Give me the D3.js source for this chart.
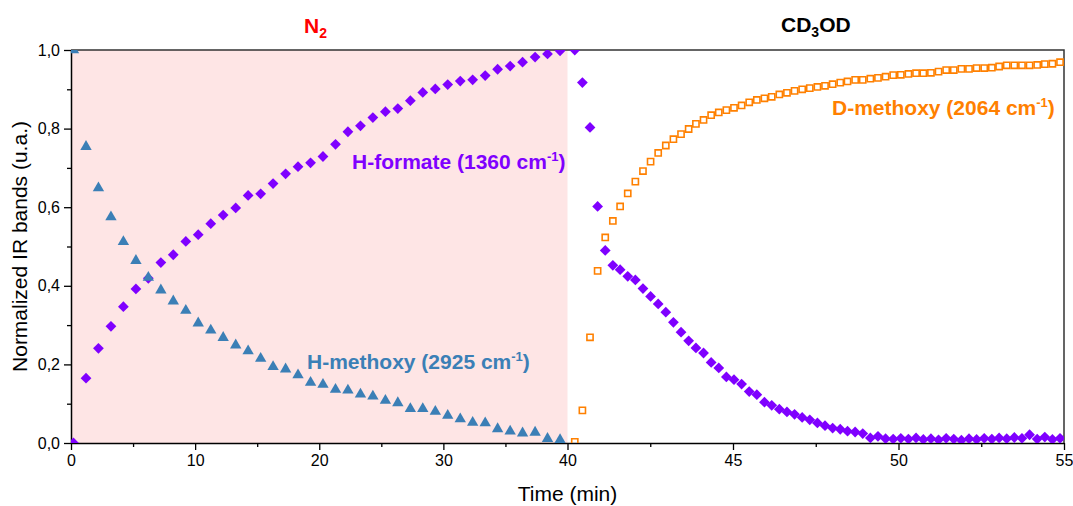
<!DOCTYPE html>
<html>
<head>
<meta charset="utf-8">
<script src="https://cdn.jsdelivr.net/npm/d3@7"></script>
<style>
  body { margin: 0; background: #fff; }
  svg { display: block; font-family: "Liberation Sans", Arial, sans-serif; }
</style>
</head>
<body>
<svg id="chart"></svg>
<script>
// N2 period (about one spectrum per minute)
const timeN2 = [0.20, 1.21, 2.21, 3.22, 4.22, 5.23, 6.23, 7.24, 8.24, 9.25,
  10.25, 11.26, 12.26, 13.27, 14.27, 15.28, 16.28, 17.29, 18.29, 19.30,
  20.30, 21.31, 22.31, 23.32, 24.32, 25.33, 26.33, 27.34, 28.34, 29.35,
  30.35, 31.36, 32.36, 33.37, 34.37, 35.38, 36.38, 37.39, 38.39, 39.40];
const formateN2 = [0.000, 0.165, 0.241, 0.297, 0.347, 0.392, 0.419, 0.459, 0.479, 0.513,
  0.530, 0.558, 0.580, 0.598, 0.630, 0.634, 0.660, 0.685, 0.703, 0.713,
  0.729, 0.760, 0.792, 0.807, 0.828, 0.843, 0.851, 0.871, 0.892, 0.901,
  0.912, 0.921, 0.924, 0.935, 0.951, 0.959, 0.969, 0.982, 0.990, 0.998];
const methoxyH = [1.000, 0.754, 0.649, 0.575, 0.512, 0.464, 0.421, 0.389, 0.361, 0.337,
  0.305, 0.287, 0.268, 0.249, 0.234, 0.215, 0.194, 0.188, 0.173, 0.154,
  0.149, 0.136, 0.134, 0.124, 0.119, 0.108, 0.102, 0.087, 0.087, 0.080,
  0.070, 0.061, 0.052, 0.051, 0.036, 0.030, 0.025, 0.027, 0.011, 0.008];

// CD3OD period (faster sampling)
const timeCD3OD = [40.22, 40.45, 40.68, 40.91, 41.14, 41.37, 41.59, 41.82, 42.05, 42.28,
  42.51, 42.74, 42.97, 43.20, 43.43, 43.66, 43.88, 44.11, 44.34, 44.57,
  44.80, 45.03, 45.26, 45.49, 45.72, 45.95, 46.17, 46.40, 46.63, 46.86,
  47.09, 47.32, 47.55, 47.78, 48.01, 48.24, 48.46, 48.69, 48.92, 49.15,
  49.38, 49.61, 49.84, 50.07, 50.30, 50.53, 50.75, 50.98, 51.21, 51.44,
  51.67, 51.90, 52.13, 52.36, 52.59, 52.82, 53.04, 53.27, 53.50, 53.73,
  53.96, 54.19, 54.42, 54.65, 54.88];
const formateCD3OD = [1.000, 0.917, 0.803, 0.602, 0.490, 0.452, 0.441, 0.424, 0.415, 0.393,
  0.373, 0.354, 0.333, 0.307, 0.282, 0.260, 0.242, 0.229, 0.205, 0.191,
  0.168, 0.161, 0.150, 0.131, 0.123, 0.104, 0.096, 0.086, 0.079, 0.073,
  0.065, 0.059, 0.051, 0.044, 0.038, 0.035, 0.030, 0.028, 0.024, 0.013,
  0.017, 0.011, 0.010, 0.012, 0.010, 0.013, 0.009, 0.011, 0.008, 0.012,
  0.010, 0.007, 0.011, 0.009, 0.012, 0.010, 0.013, 0.011, 0.014, 0.012,
  0.021, 0.010, 0.015, 0.009, 0.012];
const methoxyD = [0.003, 0.083, 0.269, 0.438, 0.523, 0.565, 0.602, 0.635, 0.665, 0.692,
  0.716, 0.738, 0.757, 0.773, 0.786, 0.799, 0.812, 0.822, 0.834, 0.841,
  0.847, 0.853, 0.859, 0.867, 0.873, 0.877, 0.881, 0.887, 0.891, 0.896,
  0.900, 0.903, 0.906, 0.909, 0.913, 0.917, 0.920, 0.924, 0.924, 0.927,
  0.929, 0.932, 0.936, 0.937, 0.939, 0.941, 0.941, 0.942, 0.945, 0.949,
  0.949, 0.952, 0.952, 0.954, 0.954, 0.955, 0.958, 0.961, 0.961, 0.961,
  0.961, 0.962, 0.964, 0.965, 0.969];

const xTicks = [0, 10, 20, 30, 40, 45, 50, 55];
const xMinor = [5, 15, 25, 35, 42.5, 47.5, 52.5];
const yTicks = [0, 0.2, 0.4, 0.6, 0.8, 1.0];
const yMinor = [0.1, 0.3, 0.5, 0.7, 0.9];

const width = 1073, height = 506;
const margin = {top: 50, right: 9, bottom: 63, left: 71};
const x0 = margin.left, x1 = width - margin.right;
const y0 = height - margin.bottom, y1 = margin.top;

const purple = "#7f00ff", blue = "#3b7fb6", orange = "#ff8000";

// time axis is stretched after the switch to CD3OD
const x = d3.scaleLinear().domain([0, 40, 55]).range([x0, (x0 + x1) / 2, x1]);
const y = d3.scaleLinear().domain([0, 1]).range([y0, y1]);

const svg = d3.select("#chart").attr("width", width).attr("height", height);

svg.append("clipPath").attr("id", "plot")
  .append("rect").attr("x", x0).attr("y", y1).attr("width", x1 - x0).attr("height", y0 - y1);

// N2 shaded period
svg.append("rect")
  .attr("x", x(0)).attr("y", y1)
  .attr("width", x(40) - x(0)).attr("height", y0 - y1)
  .attr("fill", "#fee5e5");

const fmt = d => d3.format(".1f")(d).replace(".", ",");

// minor ticks
svg.append("g").attr("transform", `translate(0,${y0})`)
  .call(d3.axisBottom(x).tickValues(xMinor).tickSize(4).tickFormat(""))
  .call(g => g.select(".domain").remove());
svg.append("g").attr("transform", `translate(${x0},0)`)
  .call(d3.axisLeft(y).tickValues(yMinor).tickSize(4).tickFormat(""))
  .call(g => g.select(".domain").remove());

// major ticks
svg.append("g").attr("class", "axis").attr("transform", `translate(0,${y0})`)
  .call(d3.axisBottom(x).tickValues(xTicks).tickSize(7).tickPadding(5).tickSizeOuter(0));
svg.append("g").attr("class", "axis").attr("transform", `translate(${x0},0)`)
  .call(d3.axisLeft(y).tickValues(yTicks).tickSize(7).tickPadding(4).tickSizeOuter(0).tickFormat(fmt));

svg.selectAll(".axis text").attr("font-size", 16).attr("fill", "#000")
  .attr("font-family", "Liberation Sans, Arial, sans-serif");
svg.selectAll(".tick line").attr("stroke", "#000").attr("stroke-width", 1.3);
svg.selectAll(".domain").attr("stroke", "#000").attr("stroke-width", 1.5);

// frame top and right
svg.append("path")
  .attr("d", `M${x0},${y1}H${x1}V${y0}`)
  .attr("fill", "none").attr("stroke", "#333").attr("stroke-width", 1.5);

const plot = svg.append("g").attr("clip-path", "url(#plot)");

const square = d3.symbol().type(d3.symbolSquare).size(38);
const diamond = d3.symbol().type(d3.symbolSquare).size(58);
const triangle = d3.symbol().type(d3.symbolTriangle).size(56);

// D-methoxy, hollow squares
plot.append("g").selectAll("path")
  .data(timeCD3OD.map((t, i) => [t, methoxyD[i]]))
  .join("path")
  .attr("d", square)
  .attr("transform", d => `translate(${x(d[0])},${y(d[1])})`)
  .attr("fill", "none").attr("stroke", orange).attr("stroke-width", 1.6);

// H-formate, diamonds
const formate = timeN2.map((t, i) => [t, formateN2[i]])
  .concat(timeCD3OD.map((t, i) => [t, formateCD3OD[i]]));
plot.append("g").selectAll("path")
  .data(formate)
  .join("path")
  .attr("d", diamond)
  .attr("transform", d => `translate(${x(d[0])},${y(d[1])}) rotate(45)`)
  .attr("fill", purple);

// H-methoxy, triangles
plot.append("g").selectAll("path")
  .data(timeN2.map((t, i) => [t, methoxyH[i]]))
  .join("path")
  .attr("d", triangle)
  .attr("transform", d => `translate(${x(d[0])},${y(d[1])})`)
  .attr("fill", blue);

// labels
function label(xp, yp, color, parts) {
  const t = svg.append("text")
    .attr("x", xp).attr("y", yp)
    .attr("fill", color)
    .attr("font-size", 21).attr("font-weight", "bold");
  parts.forEach(p => {
    const s = t.append("tspan").text(p.text);
    if (p.sup) s.attr("font-size", 13).attr("dy", -8);
    else if (p.sub) s.attr("font-size", 14).attr("dy", 5);
    else if (p.back) s.attr("dy", p.back);
  });
}

label(304, 33, "#ff0000", [{text: "N"}, {text: "2", sub: true}]);
label(781, 32, "#000", [{text: "CD"}, {text: "3", sub: true}, {text: "OD", back: -5}]);
label(352, 169, purple, [{text: "H-formate (1360 cm"}, {text: "-1", sup: true}, {text: ")", back: 8}]);
label(307, 369, blue, [{text: "H-methoxy (2925 cm"}, {text: "-1", sup: true}, {text: ")", back: 8}]);
label(832, 115, orange, [{text: "D-methoxy (2064 cm"}, {text: "-1", sup: true}, {text: ")", back: 8}]);

// axis titles
svg.append("text")
  .attr("x", (x0 + x1) / 2).attr("y", 501)
  .attr("text-anchor", "middle").attr("font-size", 21).attr("fill", "#000")
  .text("Time (min)");

svg.append("text")
  .attr("transform", `translate(27,${(y0 + y1) / 2}) rotate(-90)`)
  .attr("text-anchor", "middle").attr("font-size", 21).attr("fill", "#000")
  .text("Normalized IR bands (u.a.)");
</script>
</body>
</html>
